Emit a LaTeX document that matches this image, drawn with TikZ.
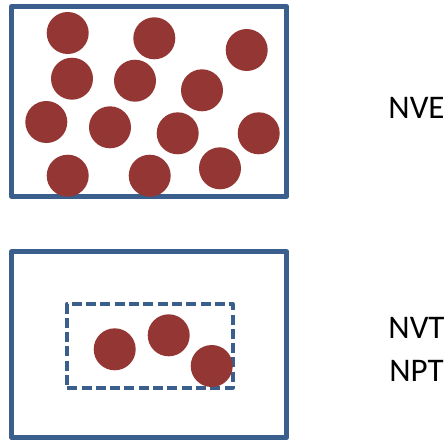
\documentclass[tikz,border=0pt]{standalone}
\usepackage{fontspec}
\setmainfont{Carlito}
\definecolor{boxblue}{HTML}{3A5F8C}
\definecolor{ballred}{HTML}{943634}
\begin{document}
\begin{tikzpicture}[x=1pt,y=-1pt,
  frame/.style={draw=boxblue,line width=5pt,line join=round,inner sep=0pt},
  inner/.style={draw=boxblue,line width=3.6pt,dash pattern=on 10pt off 4.3pt,line join=round,inner sep=0pt},
  ball/.style={circle,fill=ballred,minimum size=42pt,inner sep=0pt},
  lbl/.style={font=\fontsize{33}{38}\selectfont,inner sep=0pt,anchor=base}]
\useasboundingbox (0,0) rectangle (446,442);
% top box
\node[frame,minimum width=275.3pt,minimum height=189.7pt] (top) at (149.15,101.35) {};
\foreach \x/\y [count=\i] in {67.7/33,154.3/38.3,246.7/50,72/78.7,135/80.7,202/90.3,46.3/122,110/127.3,177.7/133.3,258.7/133.3,67.7/175.7,149.7/175.7,220/168.3}
  \node[ball] (t\i) at (\x,\y) {};
% bottom box
\node[frame,minimum width=275.3pt,minimum height=185.7pt] (bot) at (149.15,344.65) {};
\node[inner,minimum width=165.5pt,minimum height=84pt] (dash) at (150,345.8) {};
\node[ball] (b1) at (114.7,349.3) {};
\node[ball] (b2) at (168.7,335.3) {};
\node[ball] (b3) at (211.7,366) {};
% labels
\node[lbl] (nve) at (416.5,118.3) {NVE};
\node[lbl] (nvt) at (416.5,338.5) {NVT};
\node[lbl] (npt) at (416.5,381) {NPT};
\end{tikzpicture}
\end{document}
